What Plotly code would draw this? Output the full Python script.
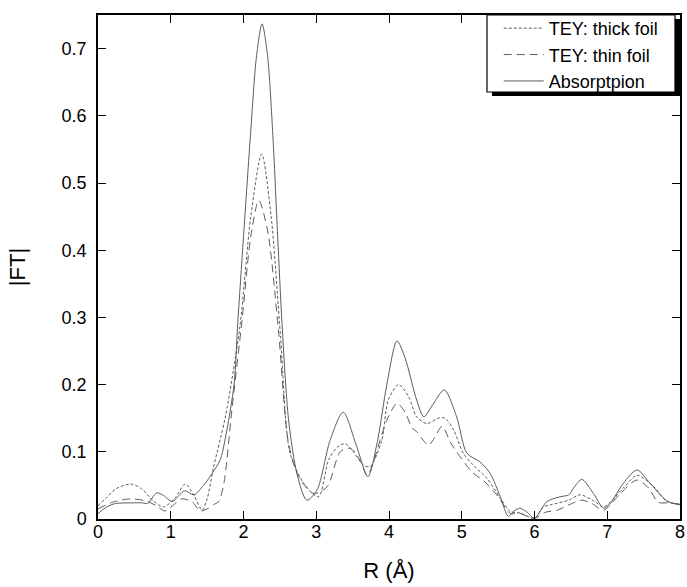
import plotly.graph_objects as go

# R (Å) positions and |FT| values
abs_r = [0.0, 0.12, 0.24, 0.45, 0.61, 0.68, 0.81, 0.9, 1.02, 1.19, 1.32, 1.45, 1.57, 1.68, 1.75, 1.87, 1.92,
         2.0, 2.1, 2.18, 2.255, 2.33, 2.4, 2.47, 2.53, 2.62, 2.74, 2.87, 3.01, 3.19, 3.37, 3.55, 3.71, 3.84,
         3.97, 4.11, 4.22, 4.38, 4.48, 4.6, 4.76, 4.93, 5.07, 5.25, 5.39, 5.53, 5.64, 5.72, 5.8, 5.9, 6.0,
         6.17, 6.35, 6.47, 6.55, 6.65, 6.81, 6.95, 7.04, 7.22, 7.41, 7.59, 7.82, 8.0]
abs_ft = [0.008, 0.018, 0.023, 0.024, 0.024, 0.023, 0.039, 0.035, 0.026, 0.042, 0.036, 0.05, 0.068, 0.088, 0.12,
          0.2, 0.29, 0.42, 0.578, 0.69, 0.737, 0.69, 0.578, 0.42, 0.29, 0.147, 0.065, 0.028, 0.043, 0.117, 0.159,
          0.11, 0.063, 0.115, 0.2, 0.265, 0.24, 0.177, 0.152, 0.17, 0.192, 0.152, 0.098, 0.085, 0.068, 0.033, 0.004,
          0.012, 0.016, 0.01, 0.001, 0.026, 0.033, 0.036, 0.048, 0.059, 0.038, 0.016, 0.023, 0.053, 0.073, 0.053,
          0.027, 0.021]

thick_r = [0.0, 0.1, 0.25, 0.45, 0.6, 0.75, 0.9, 1.05, 1.2, 1.32, 1.43, 1.5, 1.59, 1.75, 1.95, 2.1, 2.25, 2.38,
           2.51, 2.64, 2.83, 3.03, 3.17, 3.29, 3.4, 3.51, 3.65, 3.74, 3.9, 3.99, 4.13, 4.27, 4.38, 4.52, 4.68,
           4.77, 4.89, 5.02, 5.16, 5.35, 5.53, 5.67, 5.8, 6.0, 6.12, 6.22, 6.47, 6.63, 6.83, 6.95, 7.22, 7.41,
           7.64, 7.82, 8.0]
thick_ft = [0.02, 0.03, 0.045, 0.052, 0.045, 0.028, 0.018, 0.03, 0.052, 0.035, 0.013, 0.03, 0.078, 0.152, 0.286,
            0.45, 0.543, 0.45, 0.27, 0.098, 0.053, 0.033, 0.088, 0.107, 0.112, 0.1, 0.08, 0.078, 0.117, 0.177,
            0.2, 0.182, 0.152, 0.142, 0.15, 0.15, 0.132, 0.098, 0.08, 0.06, 0.031, 0.011, 0.009, 0.001, 0.018,
            0.021, 0.028, 0.036, 0.026, 0.018, 0.046, 0.065, 0.048, 0.026, 0.022]

thin_r = [0.0, 0.2, 0.45, 0.65, 0.8, 0.92, 1.05, 1.15, 1.3, 1.4, 1.5, 1.6, 1.66, 1.73, 1.84, 1.98, 2.1, 2.21,
          2.33, 2.48, 2.62, 2.76, 2.96, 3.15, 3.33, 3.47, 3.6, 3.7, 3.97, 4.11, 4.22, 4.32, 4.38, 4.54, 4.61,
          4.73, 4.84, 4.93, 5.14, 5.32, 5.48, 5.67, 5.78, 6.0, 6.15, 6.31, 6.47, 6.65, 6.79, 6.95, 7.18, 7.41,
          7.57, 7.7, 7.85, 8.0]
thin_ft = [0.015, 0.025, 0.03, 0.027, 0.02, 0.012, 0.022, 0.03, 0.025, 0.012, 0.015, 0.022, 0.026, 0.053, 0.162,
           0.296, 0.42, 0.474, 0.43, 0.281, 0.112, 0.063, 0.038, 0.048, 0.1, 0.105, 0.088, 0.065, 0.147, 0.172,
           0.159, 0.135, 0.13, 0.11, 0.118, 0.138, 0.115, 0.1, 0.07, 0.055, 0.036, 0.008, 0.009, 0.001, 0.01,
           0.013, 0.021, 0.028, 0.023, 0.013, 0.038, 0.058, 0.046, 0.025, 0.024, 0.022]

x_ticks = [0, 1, 2, 3, 4, 5, 6, 7, 8]
y_ticks = [0, 0.1, 0.2, 0.3, 0.4, 0.5, 0.6, 0.7]
y_tick_text = ["0", "0.1", "0.2", "0.3", "0.4", "0.5", "0.6", "0.7"]

FONT = "Liberation Sans, Arial, sans-serif"
LINE_COLOR = "#5c5c5c"

fig = go.Figure()
fig.add_trace(go.Scatter(x=thick_r, y=thick_ft, mode="lines", name="TEY: thick foil",
                         line=dict(color=LINE_COLOR, width=1, dash="3px,2px", shape="spline", smoothing=0.8)))
fig.add_trace(go.Scatter(x=thin_r, y=thin_ft, mode="lines", name="TEY: thin foil",
                         line=dict(color=LINE_COLOR, width=1, dash="8px,5px", shape="spline", smoothing=0.8)))
fig.add_trace(go.Scatter(x=abs_r, y=abs_ft, mode="lines", name="Absorptpion",
                         line=dict(color=LINE_COLOR, width=1, shape="spline", smoothing=0.8)))

axis_common = dict(showline=True, linecolor="black", linewidth=1.5, mirror="ticks", ticks="inside",
                   ticklen=8, tickwidth=1.2, tickcolor="black", showgrid=False, zeroline=False,
                   automargin=False, tickfont=dict(family=FONT, size=18, color="black"))

fig.update_xaxes(range=[0, 8], tickvals=x_ticks, ticktext=[str(v) for v in x_ticks],
                 title=dict(text="R (Å)", font=dict(family=FONT, size=22, color="black"), standoff=21),
                 ticklabelstandoff=-4, **axis_common)
fig.update_yaxes(range=[0, 0.75], tickvals=y_ticks, ticktext=y_tick_text,
                 title=dict(text="|FT|", font=dict(family=FONT, size=22, color="black"), standoff=30),
                 ticklabelstandoff=6, **axis_common)

# legend frame with drop shadow (plot area: x 98..680 px, y 15..519 px)
fig.add_shape(type="rect", xref="paper", yref="paper", x0=0.677, x1=1.0, y0=0.8393, y1=0.992,
              fillcolor="black", line=dict(width=0), layer="above")
fig.add_shape(type="rect", xref="paper", yref="paper", x0=0.6684, x1=0.9914, y0=0.8472, y1=1.0,
              fillcolor="white", line=dict(color="black", width=1.2), layer="above")

fig.update_layout(
    width=687, height=587,
    margin=dict(l=98, r=7, t=15, b=68, autoexpand=False),
    paper_bgcolor="white", plot_bgcolor="white",
    showlegend=True,
    legend=dict(x=0.6886, y=1.01, xanchor="left", yanchor="top", bgcolor="rgba(0,0,0,0)",
                borderwidth=0,
                font=dict(family=FONT, size=18, color="black"), tracegroupgap=0, itemwidth=40,
                indentation=0),
)

fig.write_html("out.html", config={"displayModeBar": False},
               post_script="document.body.style.margin='0px';")
